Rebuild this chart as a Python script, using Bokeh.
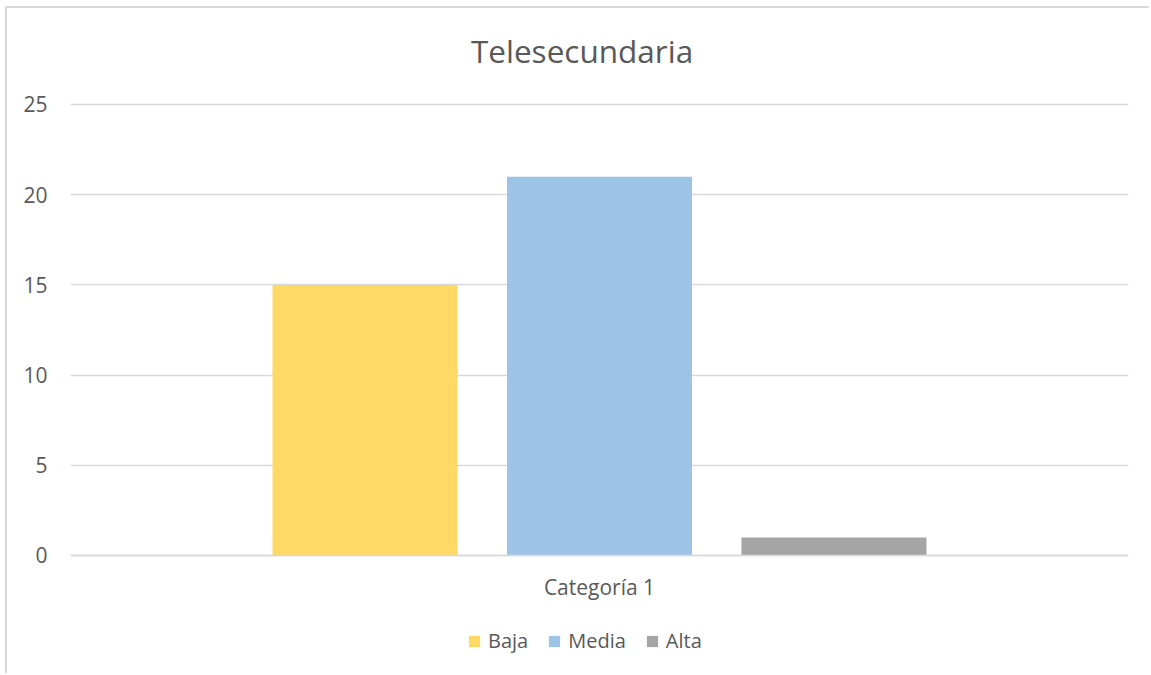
from bokeh.plotting import figure
from bokeh.models import FactorRange, Range1d, Legend, LegendItem, FixedTicker, ColumnDataSource, Label
from bokeh.transform import dodge
from bokeh.embed import file_html
from bokeh.resources import INLINE

title_text = "Telesecundaria"
categories = ["Categoría 1"]
series_names = ["Baja", "Media", "Alta"]
baja = [15]
media = [21]
alta = [1]
y_ticks = [0, 5, 10, 15, 20, 25]
colors = ["#FFD966", "#9DC3E6", "#A5A5A5"]

FONT = "Open Sans"
TXT = "#595959"

src = ColumnDataSource(dict(cat=categories, Baja=baja, Media=media, Alta=alta))

# frame extends above/below the value area to hold title, category label and legend
p = figure(width=1144, height=667, x_range=FactorRange(*categories), y_range=Range1d(-6.652, 30.3215),
           output_backend="svg", toolbar_location=None,
           min_border_left=63, min_border_right=23, min_border_top=0, min_border_bottom=0)
p.margin = (6, 0, 0, 5)
p.styles = {"border-top": "2px solid #D9D9D9", "border-left": "2px solid #D9D9D9"}

p.outline_line_color = None
p.xgrid.grid_line_color = None
p.ygrid.grid_line_color = "#D9D9D9"
p.ygrid.grid_line_width = 1.5

offsets = [-0.2216, 0.0, 0.2216]
items = []
for name, c, off in zip(series_names, colors, offsets):
    r = p.vbar(x=dodge("cat", off, range=p.x_range), top=name, bottom=0, width=0.1749, source=src,
               fill_color=c, line_color=None)
    items.append(LegendItem(label=name, renderers=[r]))

title = Label(x=0.4835, y=28.0, text=title_text, text_align="center", text_baseline="alphabetic",
              text_font=FONT, text_font_size="31.5px", text_color=TXT)
p.add_layout(title)

p.yaxis.ticker = FixedTicker(ticks=y_ticks)
p.yaxis.axis_line_color = None
p.yaxis.major_tick_line_color = None
p.yaxis.minor_tick_line_color = None
p.yaxis.major_label_text_font = FONT
p.yaxis.major_label_text_font_size = "21px"
p.yaxis.major_label_text_color = TXT
p.yaxis.major_label_standoff = 17

p.xaxis.fixed_location = 0
p.xaxis.axis_line_color = "#D9D9D9"
p.xaxis.axis_line_width = 1.5
p.xaxis.major_tick_line_color = None
p.xaxis.minor_tick_line_color = None
p.xaxis.major_label_text_font = FONT
p.xaxis.major_label_text_font_size = "21px"
p.xaxis.major_label_text_color = TXT
p.xaxis.major_label_standoff = 12

legend = Legend(items=items, orientation="horizontal", location=(397, 21),
                label_text_font=FONT, label_text_font_size="20px", label_text_color=TXT,
                glyph_width=14, glyph_height=14, label_standoff=7, spacing=19,
                border_line_color=None, background_fill_alpha=0, padding=0, margin=0)
p.add_layout(legend, "center")

open("out.html", "w").write(file_html(p, INLINE))
